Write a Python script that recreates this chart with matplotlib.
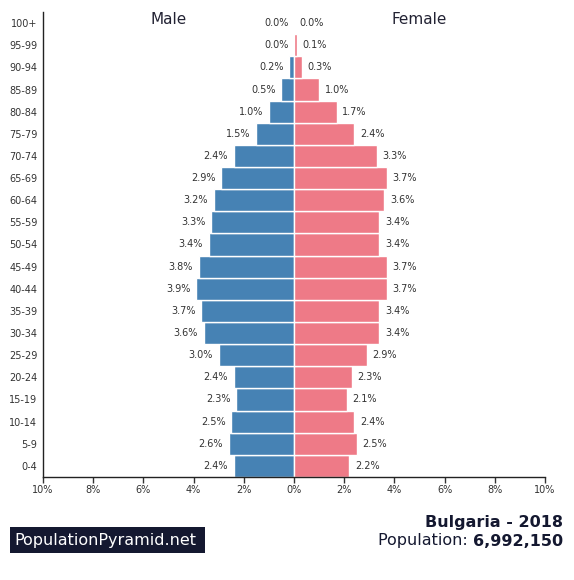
import matplotlib.pyplot as plt
from matplotlib.patches import Rectangle
import numpy as np

age_groups = ['0-4', '5-9', '10-14', '15-19', '20-24', '25-29', '30-34', '35-39',
              '40-44', '45-49', '50-54', '55-59', '60-64', '65-69', '70-74',
              '75-79', '80-84', '85-89', '90-94', '95-99', '100+']
male = [2.4, 2.6, 2.5, 2.3, 2.4, 3.0, 3.6, 3.7, 3.9, 3.8, 3.4, 3.3, 3.2, 2.9,
        2.4, 1.5, 1.0, 0.5, 0.2, 0.0, 0.0]
female = [2.2, 2.5, 2.4, 2.1, 2.3, 2.9, 3.4, 3.4, 3.7, 3.7, 3.4, 3.4, 3.6, 3.7,
          3.3, 2.4, 1.7, 1.0, 0.3, 0.1, 0.0]
ticks = [-10, -8, -6, -4, -2, 0, 2, 4, 6, 8, 10]

male_color = '#4682b4'
female_color = '#ee7a87'
text_color = '#333333'

fig = plt.figure(figsize=(5.74, 5.8), dpi=100)
ax = fig.add_axes([0.0749, 0.1776, 0.8746, 0.8017])

y = np.arange(len(age_groups))
m = np.array(male)
f = np.array(female)

ax.barh(y, -m, height=1.0, color=male_color, edgecolor='white', linewidth=1)
ax.barh(y, f, height=1.0, color=female_color, edgecolor='white', linewidth=1)

for yi, v in zip(y, m):
    ax.annotate(f'{v:.1f}%', (-v, yi), xytext=(-4, 0), textcoords='offset points',
                ha='right', va='center', fontsize=7, color=text_color)
for yi, v in zip(y, f):
    ax.annotate(f'{v:.1f}%', (v, yi), xytext=(4, 0), textcoords='offset points',
                ha='left', va='center', fontsize=7, color=text_color)

ax.set_xlim(-10, 10)
ax.set_ylim(-0.5, len(age_groups) - 0.5)
ax.set_xticks(ticks)
ax.set_xticklabels([f'{abs(t)}%' for t in ticks], fontsize=7, color=text_color)
ax.set_yticks(y)
ax.set_yticklabels(age_groups, fontsize=7, color=text_color)
ax.tick_params(axis='y', length=0, pad=4)
ax.tick_params(axis='x', length=4, width=1, color=text_color, pad=2)
for s in ['top', 'right']:
    ax.spines[s].set_visible(False)
for s in ['left', 'bottom']:
    ax.spines[s].set_color('#222222')
    ax.spines[s].set_linewidth(1)

ax.text(0.25, 1.0, 'Male', transform=ax.transAxes, ha='center', va='top',
        fontsize=11, color='#222233')
ax.text(0.75, 1.0, 'Female', transform=ax.transAxes, ha='center', va='top',
        fontsize=11, color='#222233')

# logo box
W, H = 574, 580
fig.patches.append(Rectangle((10 / W, 1 - 553 / H), 195 / W, 26 / H,
                             transform=fig.transFigure, facecolor='#141830',
                             edgecolor='none'))
fig.text(14 / W, 1 - 540 / H, 'PopulationPyramid.net', ha='left', va='center',
         fontsize=11.5, color='white')

fig.text(563 / W, 1 - 522 / H, 'Bulgaria - 2018', ha='right', va='center',
         fontsize=11.5, fontweight='bold', color='#141830')
num = fig.text(563 / W, 1 - 541 / H, '6,992,150', ha='right', va='center',
               fontsize=11.5, fontweight='bold', color='#141830')
fig.canvas.draw()
bb = num.get_window_extent()
fig.text(bb.x0 / fig.bbox.width, 1 - 541 / H, 'Population: ', ha='right', va='center',
         fontsize=11.5, color='#141830')

fig.savefig('out.png', dpi=100)
